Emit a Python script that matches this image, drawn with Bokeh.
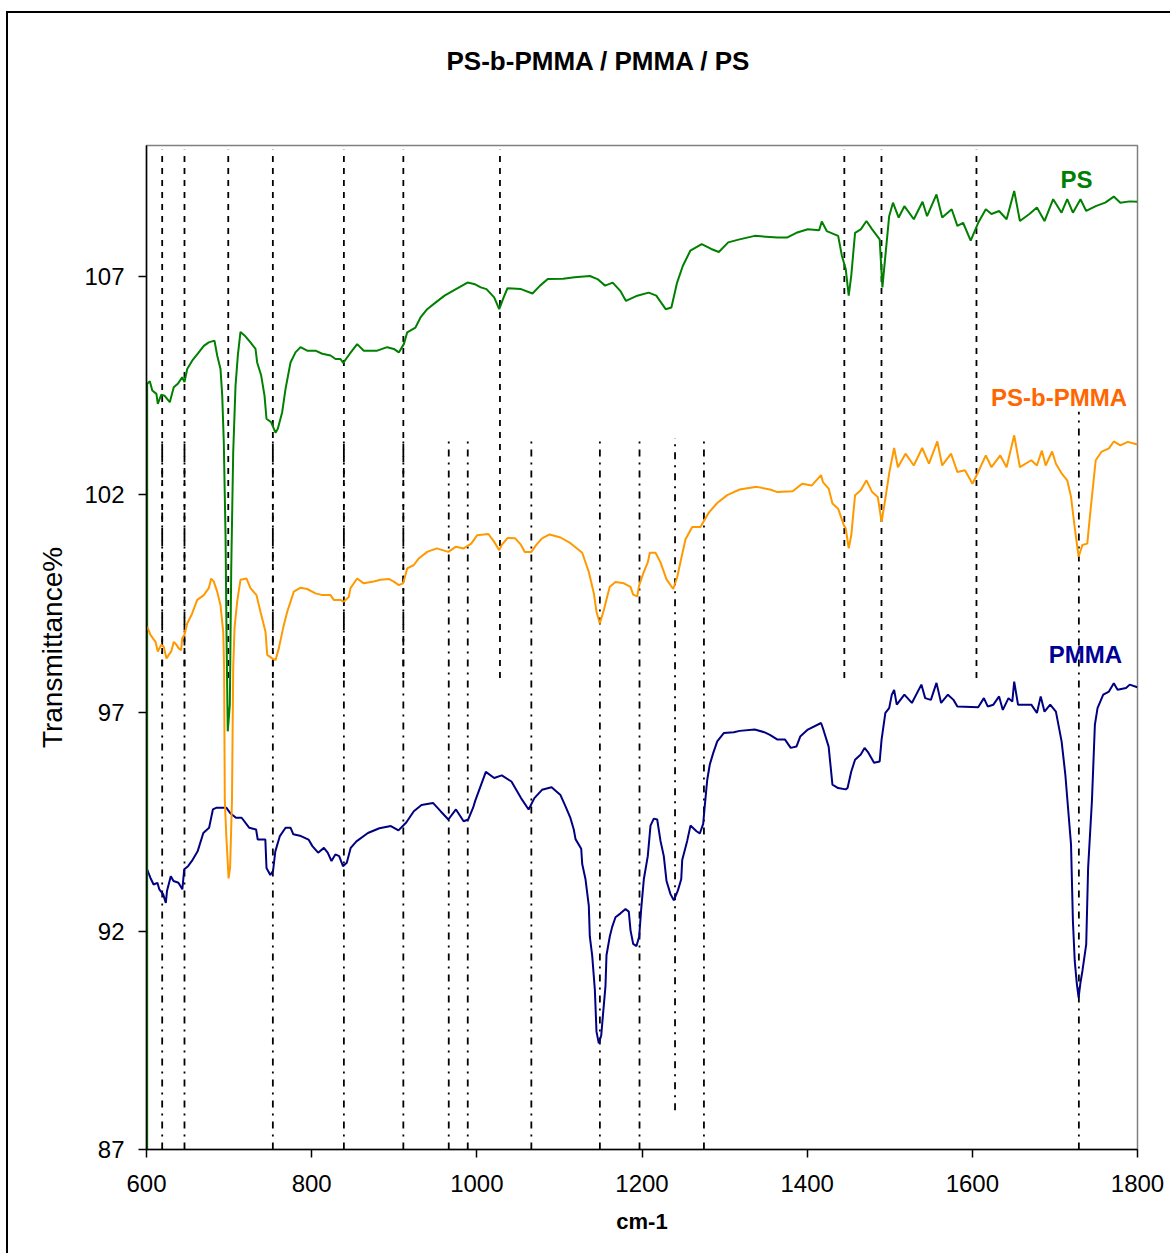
from bokeh.plotting import figure
from bokeh.models import FixedTicker, Range1d, Label, Title
from bokeh.embed import file_html
from bokeh.resources import INLINE

# ---------------- data (wavenumber cm-1, transmittance %) ----------------
ps_x = [600.8, 600.8, 604, 607, 612, 613.7, 617.8, 621.8, 628.2, 633, 637.9, 643.2, 646, 649.3, 655.3,
        663.3, 669.4, 675.4, 682.3, 685.6, 689.6, 691.7, 693.6, 695.7, 696.9, 698.4, 700.9, 702.6,
        705, 707.8, 710.6, 713.8, 718.7, 725.9, 732, 734, 738.9, 742.9, 745.3, 751, 756.2, 759,
        764.3, 768.3, 774.4, 780.4, 786.5, 794.6, 804.6, 812.8, 822.8, 828.9, 834.9, 838.2, 846.2,
        855.1, 863.1, 879.4, 891.5, 899.5, 905.5, 911.6, 915.7, 925.7, 931.8, 939.9, 949.9, 960.9,
        974.7, 988.7, 997.9, 1004.8, 1011.7, 1021, 1027.1, 1032.5, 1037.1, 1053.5, 1067.4, 1076.6,
        1085.9, 1104.5, 1118.3, 1136.9, 1146.1, 1155.3, 1164.5, 1173.7, 1180.6, 1194.3, 1208.1,
        1217.3, 1228.7, 1235.6, 1242.5, 1249.4, 1258.5, 1272.3, 1283.8, 1293, 1304.4, 1318.1,
        1336.5, 1364.1, 1375.5, 1387, 1400.8, 1414.5, 1417.7, 1423.7, 1437.5, 1442.1, 1446.7,
        1450.3, 1453.4, 1458, 1464.9, 1471.8, 1478.7, 1487.8, 1491.1, 1494.7, 1499.3, 1503.9,
        1510.8, 1517.7, 1529.1, 1539.7, 1545.2, 1556.6, 1563.5, 1575, 1581.9, 1588.8, 1598,
        1607.1, 1616.3, 1623.2, 1632.4, 1641.5, 1650.7, 1657.6, 1669.1, 1678.2, 1687.4, 1697.9,
        1708, 1714.9, 1721.8, 1731, 1737.9, 1749.4, 1760.9, 1771.3, 1779.2, 1790.6, 1799.8]
ps_y = [86.0, 104.54, 104.6, 104.39, 104.31, 104.08, 104.29, 104.27, 104.12, 104.46, 104.54, 104.69,
        104.58, 104.88, 105.07, 105.26, 105.41, 105.49, 105.53, 105.19, 104.88, 104.27, 103.2,
        101.07, 98.78, 96.58, 97.19, 100.31, 102.98, 104.5, 105.19, 105.73, 105.65, 105.49, 105.34,
        105.03, 104.73, 104.27, 103.74, 103.66, 103.42, 103.51, 103.89, 104.42, 105.03, 105.26,
        105.38, 105.30, 105.30, 105.23, 105.19, 105.11, 105.11, 105.02, 105.23, 105.45, 105.30,
        105.30, 105.38, 105.34, 105.26, 105.45, 105.72, 105.83, 106.06, 106.25, 106.40, 106.56,
        106.71, 106.86, 106.82, 106.75, 106.71, 106.52, 106.25, 106.52, 106.73, 106.71, 106.61,
        106.79, 106.94, 106.95, 106.98, 107.01, 106.94, 106.79, 106.86, 106.67, 106.44, 106.56,
        106.63, 106.56, 106.25, 106.29, 106.86, 107.24, 107.59, 107.74, 107.63, 107.56, 107.78,
        107.85, 107.93, 107.89, 107.89, 108.0, 108.08, 108.06, 108.26, 108.04, 107.93, 107.47,
        107.17, 106.56, 107.02, 108.0, 108.08, 108.27, 108.08, 107.85, 106.75, 107.47, 108.38,
        108.69, 108.35, 108.61, 108.31, 108.71, 108.38, 108.88, 108.35, 108.54, 108.16, 108.23,
        107.82, 108.23, 108.54, 108.43, 108.50, 108.31, 108.96, 108.27, 108.43, 108.58, 108.27,
        108.77, 108.46, 108.77, 108.46, 108.77, 108.50, 108.61, 108.69, 108.83, 108.69, 108.72,
        108.71]

psb_x = [600.8, 604.8, 610.9, 613.7, 617.8, 620.9, 624.2, 627, 629.9, 633.1, 636.3, 639.1, 642,
         643.2, 646, 649.3, 655.3, 661.4, 669.4, 675.4, 678.3, 681.5, 685.6, 689.6, 692.9, 694,
         694.8, 696.6, 699.4, 701.2, 703.5, 705, 706.6, 709.8, 713.8, 721.1, 725.9, 733.2, 738,
         744.1, 746.2, 752.2, 756.2, 760.2, 765.5, 770.4, 778.4, 786.5, 794.6, 804.6, 812.8, 822.8,
         826.8, 834.9, 838.9, 845, 847, 855.1, 863.1, 875.2, 883.4, 893.4, 899.5, 905.5, 910.8,
         915.7, 923.7, 929.7, 939.9, 951.5, 965.5, 974.7, 984, 993.2, 1000.2, 1014, 1021, 1027.1,
         1030.2, 1037.3, 1046.5, 1053.5, 1058.1, 1066, 1072, 1078.9, 1088.2, 1101.3, 1113.4,
         1127.6, 1135.6, 1141.6, 1144.9, 1148.9, 1153.8, 1157.9, 1161, 1167.9, 1178, 1186.1,
         1189.3, 1194.2, 1196.6, 1201.4, 1207, 1209.5, 1216.4, 1222.4, 1229.7, 1237.8, 1242.6,
         1247.5, 1252.7, 1260.8, 1270.8, 1275.7, 1280.9, 1291.1, 1303.2, 1318.2, 1338.8, 1354.9,
         1364.1, 1382.4, 1393.9, 1405.4, 1416.8, 1419.1, 1426, 1430.6, 1437.5, 1444.4, 1446.7,
         1450.3, 1453.4, 1458, 1464.9, 1471.8, 1478.7, 1485.5, 1490.1, 1494.7, 1499.3, 1505.3,
         1509.9, 1519.1, 1529.1, 1539.3, 1547.5, 1557.6, 1563.5, 1574.2, 1581.9, 1591.1, 1600.2,
         1607.1, 1616.3, 1623.2, 1633.8, 1641.5, 1650.7, 1657.6, 1671.4, 1678.2, 1684.2, 1688.8,
         1696.6, 1701.2, 1708.1, 1714.9, 1719.5, 1724.1, 1728.7, 1733.3, 1739.2, 1742.5, 1749.4,
         1756.2, 1765.4, 1771.3, 1779.2, 1788.3, 1799.8]
psb_y = [98.98, 98.79, 98.63, 98.41, 98.56, 98.52, 98.25, 98.33, 98.41, 98.63, 98.56, 98.48, 98.44,
         98.71, 98.79, 99.05, 99.28, 99.59, 99.70, 99.86, 100.08, 100.01, 99.78, 99.47, 98.86,
         98.03, 95.0, 94.2, 93.21, 93.45, 95.0, 98.03, 98.95, 99.55, 100.05, 100.08, 99.86, 99.70,
         99.32, 98.86, 98.33, 98.25, 98.21, 98.48, 98.95, 99.32, 99.78, 99.87, 99.84, 99.74, 99.70,
         99.70, 99.59, 99.59, 99.55, 99.66, 99.86, 100.08, 99.97, 100.01, 100.05, 100.07, 100.01,
         99.93, 99.97, 100.31, 100.39, 100.54, 100.69, 100.77, 100.69, 100.81, 100.77, 100.88,
         101.07, 101.10, 100.92, 100.73, 100.85, 101.01, 101.0, 100.85, 100.69, 100.69, 100.85,
         101.0, 101.09, 101.02, 100.89, 100.67, 100.23, 99.75, 99.32, 99.05, 99.36, 99.67, 99.89,
         100.00, 99.97, 99.89, 99.71, 99.67, 99.93, 100.19, 100.45, 100.67, 100.67, 100.45,
         100.06, 99.84, 100.11, 100.54, 100.98, 101.26, 101.26, 101.42, 101.59, 101.81, 101.99,
         102.12, 102.18, 102.12, 102.06, 102.08, 102.25, 102.21, 102.45, 102.29, 102.14, 101.80,
         101.68, 101.30, 101.23, 100.77, 101.07, 101.99, 102.10, 102.33, 102.06, 101.95, 101.38,
         101.91, 102.49, 103.07, 102.63, 102.94, 102.67, 103.07, 102.71, 103.22, 102.67, 102.94,
         102.52, 102.56, 102.25, 102.52, 102.90, 102.63, 102.90, 102.63, 103.36, 102.63, 102.79,
         102.67, 103.01, 102.67, 102.99, 102.71, 102.49, 102.33, 101.95, 101.23, 100.58, 100.85,
         100.88, 101.53, 102.79, 102.98, 103.06, 103.22, 103.13, 103.21, 103.15]

pmma_x = [600.7, 604.8, 608.6, 613.2, 615.5, 620.1, 623.4, 624.8, 629.4, 632.7, 638.7, 643.4, 645.7,
          650.3, 655, 661.9, 668.8, 675.8, 680.4, 685, 696.6, 701.2, 708.3, 715.2, 724.5, 732.7,
          734.7, 743.9, 745.3, 749.9, 753.2, 756, 761.5, 768.4, 774.5, 777.8, 787, 796.2, 800.9,
          807.8, 814.8, 819.4, 824, 828.7, 833.3, 837.9, 842.5, 847.3, 854.2, 868.1, 882, 895.9,
          905.1, 914.5, 923.7, 933, 946.9, 956.1, 965.5, 974.7, 984, 989.5, 995.5, 997.9, 1010.9,
          1021, 1030.2, 1041.9, 1053.5, 1062.7, 1069.7, 1078.9, 1090.5, 1101.3, 1107.4, 1113.4,
          1117.4, 1119.5, 1126.4, 1127.6, 1131.6, 1135.6, 1136.8, 1139.7, 1142.9, 1144.9, 1147.7,
          1150.6, 1153, 1155.8, 1157, 1161, 1163.9, 1167.9, 1174, 1180, 1184, 1186.1, 1189.3,
          1193.3, 1196.6, 1199, 1202.2, 1207, 1210.3, 1214.3, 1218.4, 1222.4, 1226.4, 1229.7,
          1234.5, 1238.5, 1243.4, 1247.5, 1248.7, 1254.7, 1258.7, 1266, 1270, 1274.1, 1275.7,
          1279, 1282.1, 1286.2, 1291.1, 1299, 1311.2, 1318.2, 1336.5, 1348, 1354.9, 1364.1,
          1373.2, 1380.1, 1387, 1391.6, 1400.8, 1416.8, 1419.1, 1426, 1430.6, 1437.5, 1446.7,
          1448.9, 1453.4, 1458, 1464.9, 1469.5, 1474.1, 1481, 1487.8, 1490.1, 1494.7, 1499.3,
          1502.5, 1505.3, 1508.5, 1517.7, 1526.8, 1538.3, 1542.9, 1549.8, 1556.6, 1562.2, 1570.4,
          1577.2, 1581.9, 1607.1, 1614, 1618.6, 1625.5, 1632.4, 1636.9, 1643.8, 1648.4, 1650.7,
          1655.3, 1671.4, 1678.2, 1682.8, 1687.4, 1694.3, 1701.2, 1708.1, 1712.6, 1717.2, 1719.5,
          1721.8, 1724, 1726.4, 1728.7, 1730.9, 1733.3, 1737.9, 1740.2, 1744.8, 1748.4, 1751.6,
          1758.5, 1765.4, 1771.3, 1775.9, 1786.1, 1790.6, 1799.8]
pmma_y = [93.42, 93.22, 93.07, 93.11, 92.96, 92.85, 92.65, 92.92, 93.26, 93.15, 93.11, 92.96, 93.42,
          93.49, 93.61, 93.83, 94.25, 94.37, 94.79, 94.83, 94.83, 94.71, 94.60, 94.60, 94.37, 94.33,
          94.10, 94.10, 93.45, 93.29, 93.38, 93.83, 94.18, 94.37, 94.37, 94.22, 94.18, 94.10, 93.95,
          93.80, 93.91, 93.80, 93.61, 93.76, 93.72, 93.49, 93.57, 93.91, 94.06, 94.25, 94.36, 94.41,
          94.31, 94.49, 94.75, 94.89, 94.94, 94.75, 94.56, 94.79, 94.52, 94.56, 94.83, 94.98, 95.65,
          95.51, 95.57, 95.43, 95.05, 94.79, 95.05, 95.24, 95.30, 95.12, 94.86, 94.59, 94.33, 94.11,
          93.89, 93.54, 93.19, 92.58, 91.88, 91.44, 90.66, 89.70, 89.43, 89.61, 90.14, 90.75, 91.45,
          91.88, 92.10, 92.32, 92.41, 92.51, 92.45, 92.02, 91.71, 91.66, 91.88, 92.50, 93.19, 93.72,
          94.42, 94.58, 94.56, 94.07, 93.72, 93.15, 92.85, 92.71, 92.93, 93.19, 93.63, 94.07, 94.42,
          94.29, 94.24, 94.46, 94.81, 95.47, 95.82, 96.08, 96.35, 96.54, 96.56, 96.59, 96.62, 96.56,
          96.50, 96.39, 96.39, 96.20, 96.23, 96.46, 96.62, 96.77, 96.65, 96.23, 95.36, 95.28, 95.25,
          95.28, 95.66, 95.93, 96.05, 96.20, 96.09, 95.86, 95.89, 96.39, 97.00, 97.11, 97.42, 97.53,
          97.19, 97.42, 97.23, 97.65, 97.34, 97.30, 97.69, 97.23, 97.42, 97.30, 97.15, 97.13, 97.34,
          97.15, 97.19, 97.38, 97.07, 97.34, 97.26, 97.72, 97.19, 97.19, 97.00, 97.38, 97.03, 97.19,
          97.03, 96.35, 95.59, 94.52, 93.99, 92.23, 91.32, 90.82, 90.48, 90.82, 91.09, 91.70, 93.45,
          94.98, 96.73, 97.11, 97.42, 97.49, 97.68, 97.53, 97.57, 97.65, 97.59]

# band markers
ps_bands = [619, 646, 699, 753, 839, 911, 1028, 1445, 1490, 1605]
ps_band_top = [109.9] * 10
ps_band_bottom = [97.8] * 10
pmma_bands = [619, 646, 753, 839, 911, 966, 989, 1066, 1149, 1197, 1240, 1275, 1729]
pmma_band_top = [103.3] * 12 + [103.9]
pmma_band_bottom = [87, 87, 87, 87, 87, 87, 87, 87, 87, 87, 87.9, 87, 87]

x_ticks = [600, 800, 1000, 1200, 1400, 1600, 1800]
y_ticks = [87, 92, 97, 102, 107]

FONT = "Liberation Sans"

p = figure(width=1164, height=1242, x_range=Range1d(600, 1800), y_range=Range1d(87, 110),
           output_backend="svg", toolbar_location=None, title=None,
           min_border_left=138, min_border_right=35, min_border_top=132, min_border_bottom=106)
p.styles = {"border-top": "2px solid black", "border-left": "2px solid black",
            "margin-left": "6px", "margin-top": "11px"}

# spacer between the plot area and the chart title, then the title itself
p.add_layout(Title(text=" ", text_font_size="1px", standoff=67), "above")
p.add_layout(Title(text="PS-b-PMMA / PMMA / PS", text_font=FONT, text_font_size="26px",
                   text_font_style="bold", text_color="black", align="left", offset=300,
                   standoff=0, vertical_align="bottom"), "above")

p.grid.visible = False
p.outline_line_color = "#808080"
p.outline_line_width = 1.5
p.background_fill_color = "white"
p.border_fill_color = "white"

for ax in (p.xaxis[0], p.yaxis[0]):
    ax.axis_line_color = "black"
    ax.axis_line_width = 1.5
    ax.major_tick_in = 0
    ax.major_tick_out = 8
    ax.major_tick_line_color = "black"
    ax.major_tick_line_width = 1.5
    ax.minor_tick_in = 0
    ax.minor_tick_out = 0
    ax.major_label_text_font = FONT
    ax.major_label_text_font_size = "24px"
    ax.major_label_text_color = "black"
    ax.axis_label_text_font = FONT
    ax.axis_label_text_color = "black"

p.xaxis.ticker = FixedTicker(ticks=x_ticks)
p.yaxis.ticker = FixedTicker(ticks=y_ticks)
p.xaxis.major_label_standoff = 17
p.yaxis.major_label_standoff = 14
p.xaxis.axis_label = "cm-1"
p.xaxis.axis_label_text_font_size = "22px"
p.xaxis.axis_label_text_font_style = "bold"
p.xaxis.axis_label_standoff = 14
p.yaxis.axis_label = "Transmittance%"
p.yaxis.axis_label_text_font_size = "28px"
p.yaxis.axis_label_text_font_style = "normal"
p.yaxis.axis_label_standoff = 13

# band marker lines
p.segment(x0=ps_bands, y0=ps_band_bottom, x1=ps_bands, y1=ps_band_top,
          line_color="black", line_width=1.8, line_dash="6 6")
p.segment(x0=pmma_bands, y0=pmma_band_bottom, x1=pmma_bands, y1=pmma_band_top,
          line_color="black", line_width=1.8, line_dash="7 6 2 6")

# spectra
p.line(pmma_x, pmma_y, line_color="#000080", line_width=2)
p.line(ps_x, ps_y, line_color="#008000", line_width=2)
p.line(psb_x, psb_y, line_color="#FF9900", line_width=2)

# series labels
for txt, xx, yy, col in [("PS", 1726, 109.22, "#008000"),
                         ("PS-b-PMMA", 1705, 104.23, "#FF6600"),
                         ("PMMA", 1737, 98.34, "#000099")]:
    p.add_layout(Label(x=xx, y=yy, text=txt, text_color=col, text_font=FONT,
                       text_font_size="24px", text_font_style="bold",
                       text_align="center", text_baseline="middle"))

open("out.html", "w").write(file_html(p, INLINE))
